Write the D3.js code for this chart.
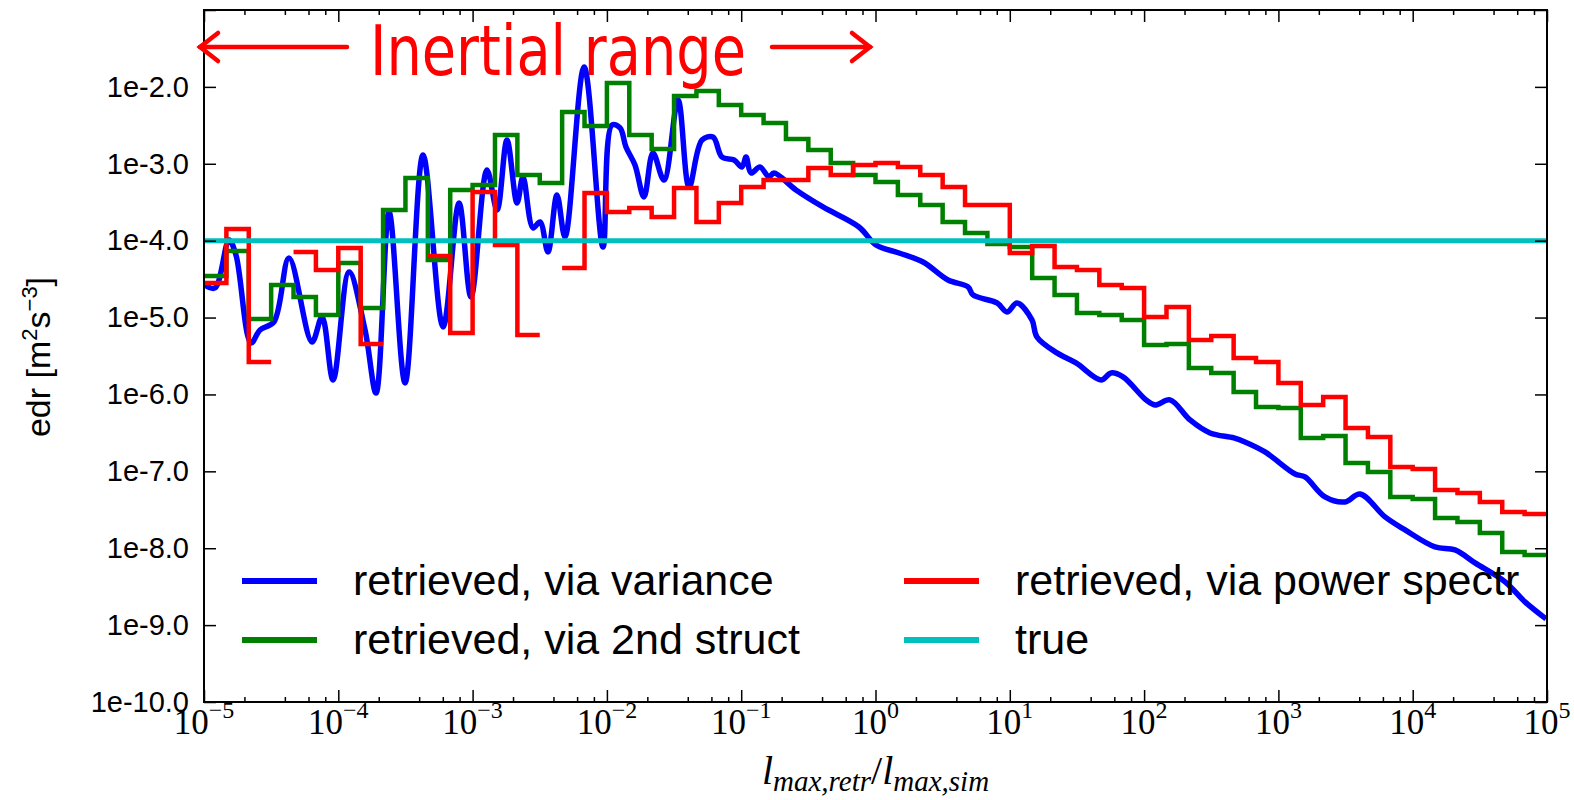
<!DOCTYPE html>
<html>
<head>
<meta charset="utf-8">
<script src="https://cdn.jsdelivr.net/npm/d3@7"></script>
<style>
  body { margin: 0; background: #fff; }
  svg { display: block; }
</style>
</head>
<body>
<svg id="chart" width="1574" height="800"></svg>
<script>
// ---- data (log10 values) ----
var xMajorExp = [-5, -4, -3, -2, -1, 0, 1, 2, 3, 4, 5];
var yMajorExp = [-10, -9, -8, -7, -6, -5, -4, -3, -2, -1];
var yLabelExp = [-10, -9, -8, -7, -6, -5, -4, -3, -2];
var minorMult = [2, 4, 6, 8];

// retrieved, via variance (smooth curve): x exponent, y exponent
var varianceX = [-4.996, -4.918, -4.814, -4.762, -4.650, -4.583, -4.479, -4.367, -4.196, -4.121,
  -4.039, -3.920, -3.801, -3.719, -3.622, -3.503, -3.369, -3.220, -3.101, -3.012,
  -2.893, -2.818, -2.744, -2.669, -2.625, -2.550, -2.498, -2.439, -2.372, -2.312,
  -2.170, -2.029, -1.962, -1.902, -1.858, -1.791, -1.724, -1.657, -1.575, -1.470,
  -1.388, -1.292, -1.210, -1.143, -1.053, -0.994, -0.964, -0.927, -0.860, -0.793,
  -0.756, -0.592, -0.391, -0.123, 0.004, 0.175, 0.354, 0.540, 0.689, 0.726,
  0.905, 0.979, 1.054, 1.165, 1.202, 1.351, 1.493, 1.679, 1.754, 1.843,
  2.014, 2.081, 2.193, 2.342, 2.491, 2.669, 2.751, 2.900, 3.124, 3.198,
  3.347, 3.496, 3.608, 3.794, 3.943, 4.166, 4.315, 4.464, 4.688, 4.836, 4.993];
var varianceY = [-4.576, -4.615, -3.991, -4.186, -5.330, -5.161, -5.057, -4.225, -5.317, -4.992,
  -5.811, -4.407, -5.161, -5.981, -3.627, -5.850, -2.886, -5.122, -3.510, -4.732,
  -3.081, -3.601, -2.691, -3.510, -3.172, -3.835, -3.757, -4.147, -3.406, -3.952,
  -1.741, -4.082, -2.495, -2.534, -2.782, -3.016, -3.432, -2.860, -3.211, -2.170,
  -3.302, -2.691, -2.652, -2.912, -2.951, -3.042, -2.912, -3.120, -3.042, -3.172,
  -3.120, -3.341, -3.562, -3.822, -4.056, -4.160, -4.277, -4.511, -4.602, -4.706,
  -4.810, -4.927, -4.810, -5.031, -5.252, -5.460, -5.590, -5.811, -5.720, -5.772,
  -6.071, -6.137, -6.071, -6.332, -6.501, -6.566, -6.618, -6.748, -7.034, -7.073,
  -7.333, -7.398, -7.294, -7.593, -7.762, -7.983, -8.022, -8.191, -8.438, -8.698, -8.919];

// step curves: one value per 1/6-decade bin from 1e-5 to 1e5 (null = no value)
var binsPerDecade = 6;
var structY = [-4.459, -4.134, -5.018, -4.576, -4.732, -4.966, -4.290, -4.875, -3.601, -3.185,
  -4.251, -3.341, -3.276, -2.626, -3.146, -3.250, -2.326, -2.508, -1.949, -2.626,
  -2.808, -2.118, -2.053, -2.235, -2.365, -2.469, -2.678, -2.821, -2.990, -3.146,
  -3.237, -3.406, -3.536, -3.757, -3.900, -4.043, -4.082, -4.485, -4.706, -4.940,
  -4.966, -5.031, -5.356, -5.343, -5.655, -5.720, -5.967, -6.163, -6.176, -6.566,
  -6.540, -6.891, -7.008, -7.333, -7.359, -7.606, -7.658, -7.801, -8.048, -8.087];
var spectrY = [-4.550, -3.848, -5.577, null, -4.147, -4.381, -4.095, -5.343, null, null,
  -4.199, -5.200, -3.367, -4.056, -5.226, null, -4.355, -3.380, -3.627, -3.575,
  -3.692, -3.315, -3.757, -3.510, -3.302, -3.211, -3.211, -3.055, -3.146, -3.016,
  -2.990, -3.042, -3.146, -3.302, -3.536, -3.536, -4.160, -4.069, -4.342, -4.381,
  -4.576, -4.615, -4.992, -4.862, -5.291, -5.239, -5.525, -5.577, -5.850, -6.137,
  -6.033, -6.436, -6.553, -6.943, -6.969, -7.242, -7.281, -7.398, -7.528, -7.554];
var trueEdr = 1e-4;

var seriesNames = ["retrieved, via variance", "retrieved, via 2nd struct",
  "retrieved, via power spectr", "true"];
var seriesColors = ["#0000ff", "#008000", "#ff0000", "#00bfbf"];

// ---- layout ----
var svg = d3.select("#chart");
var pLeft = 204, pRight = 1547, pTop = 10, pBottom = 702;

var x = d3.scaleLog().domain([1e-5, 1e5]).range([pLeft, pRight]);
var y = d3.scaleLog().domain([1e-10, 1e-1]).range([pBottom, pTop]);

var xMajor = xMajorExp.map(function(e) { return Math.pow(10, e); });
var xMinor = [];
xMajorExp.slice(0, -1).forEach(function(e) {
  minorMult.forEach(function(m) { xMinor.push(m * Math.pow(10, e)); });
});
var yMajor = yMajorExp.map(function(e) { return Math.pow(10, e); });

svg.append("clipPath").attr("id", "clip")
  .append("rect").attr("x", pLeft).attr("y", pTop)
  .attr("width", pRight - pLeft).attr("height", pBottom - pTop);
var plot = svg.append("g").attr("clip-path", "url(#clip)");

// variance curve
var curveLine = d3.line()
  .x(function(d) { return x(Math.pow(10, d[0])); })
  .y(function(d) { return y(Math.pow(10, d[1])); })
  .curve(d3.curveCatmullRom.alpha(0.5));

plot.append("path")
  .datum(d3.zip(varianceX, varianceY))
  .attr("d", curveLine)
  .attr("fill", "none")
  .attr("stroke", seriesColors[0])
  .attr("stroke-width", 5.5)
  .attr("stroke-linejoin", "round");

// step curves built from bins
function stepPoints(vals) {
  var pts = [];
  vals.forEach(function(v, i) {
    if (v === null) { pts.push(null); return; }
    var e0 = -5 + i / binsPerDecade, e1 = -5 + (i + 1) / binsPerDecade;
    pts.push([e0, v], [e1, v]);
  });
  return pts;
}
var stepLine = d3.line()
  .defined(function(d) { return d !== null; })
  .x(function(d) { return x(Math.pow(10, d[0])); })
  .y(function(d) { return y(Math.pow(10, d[1])); });

plot.append("path")
  .datum(stepPoints(structY))
  .attr("d", stepLine)
  .attr("fill", "none")
  .attr("stroke", seriesColors[1])
  .attr("stroke-width", 4.5);

plot.append("path")
  .datum(stepPoints(spectrY))
  .attr("d", stepLine)
  .attr("fill", "none")
  .attr("stroke", seriesColors[2])
  .attr("stroke-width", 4.5);

plot.append("line")
  .attr("x1", x(1e-5)).attr("x2", x(1e5))
  .attr("y1", y(trueEdr)).attr("y2", y(trueEdr))
  .attr("stroke", seriesColors[3])
  .attr("stroke-width", 5);

// ---- axes (ticks inward) ----
function styleAxis(g) {
  g.select(".domain").remove();
  g.selectAll(".tick line").attr("stroke", "#000").attr("stroke-width", 1.5);
}
svg.append("g").attr("transform", "translate(0," + pBottom + ")")
  .call(d3.axisBottom(x).tickValues(xMajor).tickSize(-12).tickFormat(""))
  .call(styleAxis);
svg.append("g").attr("transform", "translate(0," + pBottom + ")")
  .call(d3.axisBottom(x).tickValues(xMinor).tickSize(-5).tickFormat(""))
  .call(styleAxis);
svg.append("g").attr("transform", "translate(0," + pTop + ")")
  .call(d3.axisTop(x).tickValues(xMajor).tickSize(-12).tickFormat(""))
  .call(styleAxis);
svg.append("g").attr("transform", "translate(0," + pTop + ")")
  .call(d3.axisTop(x).tickValues(xMinor).tickSize(-5).tickFormat(""))
  .call(styleAxis);
svg.append("g").attr("transform", "translate(" + pRight + ",0)")
  .call(d3.axisRight(y).tickValues(yMajor).tickSize(-12).tickFormat(""))
  .call(styleAxis);

var yAxis = svg.append("g").attr("transform", "translate(" + pLeft + ",0)")
  .call(d3.axisLeft(y).tickValues(yMajor).tickSize(-12).tickPadding(15)
    .tickFormat(function(d) {
      var e = Math.round(Math.log10(d));
      return yLabelExp.indexOf(e) >= 0 ? "1e" + e.toFixed(1) : "";
    }))
  .call(styleAxis);
yAxis.selectAll("text")
  .attr("font-family", "'Liberation Sans', Arial, sans-serif")
  .attr("font-size", 29)
  .attr("fill", "#000");

// x tick labels as 10^n
var xLab = svg.append("g")
  .attr("font-family", "'Liberation Serif', 'Times New Roman', serif")
  .attr("fill", "#000");
xMajorExp.forEach(function(e) {
  var t = xLab.append("text")
    .attr("x", x(Math.pow(10, e)))
    .attr("y", 734)
    .attr("text-anchor", "middle");
  t.append("tspan").attr("font-size", 35).text("10");
  t.append("tspan").attr("font-size", 24).attr("dy", -16)
    .text(e < 0 ? "\u2212" + (-e) : String(e));
});

// frame
svg.append("rect")
  .attr("x", pLeft).attr("y", pTop)
  .attr("width", pRight - pLeft).attr("height", pBottom - pTop)
  .attr("fill", "none").attr("stroke", "#000").attr("stroke-width", 2);

// axis titles
var xt = svg.append("text")
  .attr("x", (pLeft + pRight) / 2)
  .attr("y", 784)
  .attr("text-anchor", "middle")
  .attr("font-family", "'Liberation Serif', 'Times New Roman', serif")
  .attr("font-style", "italic")
  .attr("fill", "#000");
xt.append("tspan").attr("font-size", 40).text("l");
xt.append("tspan").attr("font-size", 29).attr("dy", 7).text("max,retr");
xt.append("tspan").attr("font-size", 40).attr("dy", -7).attr("font-style", "normal").text("/");
xt.append("tspan").attr("font-size", 40).text("l");
xt.append("tspan").attr("font-size", 29).attr("dy", 7).text("max,sim");

var yt = svg.append("text")
  .attr("transform", "translate(50,357) rotate(-90)")
  .attr("text-anchor", "middle")
  .attr("font-family", "'Liberation Sans', Arial, sans-serif")
  .attr("font-size", 34)
  .attr("fill", "#000");
yt.append("tspan").text("edr [m");
yt.append("tspan").attr("font-size", 22).attr("dy", -13).text("2");
yt.append("tspan").attr("dy", 13).text("s");
yt.append("tspan").attr("font-size", 22).attr("dy", -13).text("\u22123");
yt.append("tspan").attr("dy", 13).text("]");

// ---- legend ----
var legendPos = [[242, 581], [242, 640], [904, 581], [904, 640]];
var legend = svg.append("g")
  .attr("font-family", "'Liberation Sans', Arial, sans-serif")
  .attr("font-size", 43)
  .attr("fill", "#000");
seriesNames.forEach(function(name, i) {
  var p = legendPos[i];
  legend.append("line")
    .attr("x1", p[0]).attr("x2", p[0] + 75)
    .attr("y1", p[1]).attr("y2", p[1])
    .attr("stroke", seriesColors[i])
    .attr("stroke-width", 6);
  legend.append("text")
    .attr("x", p[0] + 111)
    .attr("y", p[1] + 14)
    .text(name);
});

// ---- "Inertial range" annotation ----
var ann = svg.append("g").attr("stroke", "#ff0000").attr("stroke-width", 4.5)
  .attr("fill", "none").attr("stroke-linecap", "round");
ann.append("line").attr("x1", 200).attr("x2", 347).attr("y1", 47).attr("y2", 47);
ann.append("path").attr("d", "M218,33 L200,47 L218,61");
ann.append("line").attr("x1", 772).attr("x2", 870).attr("y1", 47).attr("y2", 47);
ann.append("path").attr("d", "M852,33 L870,47 L852,61");
svg.append("text")
  .attr("x", 370).attr("y", 75)
  .attr("font-family", "'DejaVu Sans', Verdana, sans-serif")
  .attr("font-size", 69)
  .attr("textLength", 376)
  .attr("lengthAdjust", "spacingAndGlyphs")
  .attr("fill", "#ff0000")
  .text("Inertial range");
</script>
</body>
</html>
